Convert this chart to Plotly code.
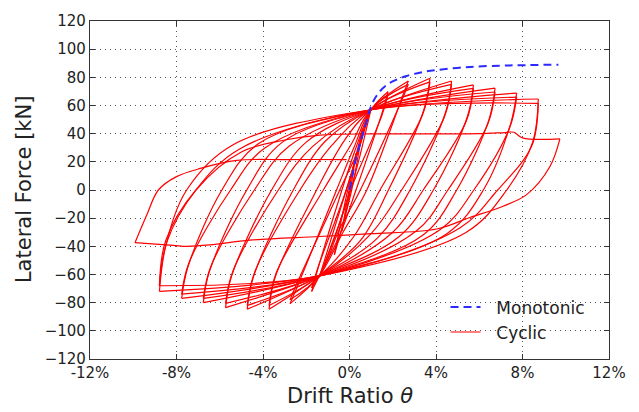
import plotly.graph_objects as go

# ---------------- data (drift in %, force in kN) ----------------
# Monotonic push-over curve
mono_drift = [0.0, 0.33, 0.70, 1.03, 1.35, 1.72, 2.20, 2.64, 3.30, 4.03, 5.57, 7.00, 7.88, 9.66]
mono_force = [0.0, 24.0, 44.0, 60.7, 69.0, 74.6, 78.5, 81.0, 83.5, 85.2, 87.4, 88.3, 88.6, 89.0]

# Small, nearly elastic cycles
small_pos_drift = [0.30, 0.60, 1.00]
small_pos_force = [26.0, 43.0, 58.0]
small_neg_drift = [-0.35, -0.70, -1.40]
small_neg_force = [-29.0, -46.0, -62.0]
small_up_zero = [-0.02, -0.08, -0.15]
small_dn_zero = [0.04, 0.10, 0.05]

# Large cycles: two cycles per drift level
pos_drift = [1.78, 2.72, 3.72, 4.72, 5.73, 6.73, 7.73, 8.73]
pos_force_c1 = [69.8, 77.4, 79.3, 77.4, 74.6, 72.3, 68.8, 64.6]
pos_force_c2 = [67.5, 75.0, 76.8, 75.0, 72.2, 69.6, 66.0, 61.5]
neg_drift = [-1.75, -2.75, -3.72, -4.73, -5.73, -6.76, -7.76, -8.79]
neg_force_c1 = [-72.0, -80.7, -84.6, -84.6, -83.5, -80.0, -77.0, -72.0]
neg_force_c2 = [-69.5, -78.0, -82.0, -82.0, -80.5, -77.0, -74.0, -68.0]

# points on the steep part of each branch, just after the load reversal
up_steep_x_c1 = [-1.50, -2.45, -3.44, -4.45, -5.45, -6.48, -7.48, -8.50]
up_steep_y_c1 = [-58.0, -70.0, -62.0, -62.0, -61.0, -58.0, -55.0, -40.0]
up_steep_x_c2 = [-1.48, -2.45, -3.39, -4.40, -5.40, -6.43, -7.43, -8.45]
up_steep_y_c2 = [-56.0, -67.0, -59.0, -59.0, -58.0, -55.0, -52.0, -37.0]
dn_steep_x_c1 = [1.53, 2.44, 3.44, 4.44, 5.45, 6.45, 7.45, 8.47]
dn_steep_y_c1 = [56.0, 66.0, 57.0, 55.0, 52.0, 50.0, 47.0, 34.0]
dn_steep_x_c2 = [1.50, 2.40, 3.39, 4.39, 5.40, 6.40, 7.40, 8.42]
dn_steep_y_c2 = [53.0, 63.0, 54.0, 52.0, 49.0, 47.0, 44.0, 31.0]

# zero-force crossings of the reloading (upward) and unloading (downward) branches
up_zero_c1 = [-0.35, -0.60, -1.52, -2.60, -3.60, -4.75, -5.90, -7.53]
up_zero_c2 = [-0.15, -0.45, -1.21, -2.29, -3.29, -4.40, -5.50, -7.10]
dn_zero_c1 = [0.30, 0.80, 1.80, 2.80, 3.88, 4.96, 6.19, 7.27]
dn_zero_c2 = [0.05, 0.50, 1.41, 2.41, 3.41, 4.55, 5.75, 6.85]

# knee points where the steep branches turn into the flat ones
up_knee_x_c1 = [0.30, 0.20, -0.20, -1.10, -2.00, -3.10, -4.20, -5.40]
up_knee_y_c1 = [30.0, 30.0, 36.0, 35.0, 34.0, 34.0, 33.0, 32.0]
up_knee_x_c2 = [0.40, 0.45, 0.10, -0.80, -1.70, -2.80, -3.90, -5.10]
up_knee_y_c2 = [28.0, 30.0, 33.0, 32.0, 31.0, 31.0, 30.0, 29.0]
dn_knee_x_c1 = [-0.45, -0.30, 0.50, 1.30, 2.30, 3.40, 4.50, 5.40]
dn_knee_y_c1 = [-32.0, -30.0, -36.0, -34.0, -33.0, -32.0, -31.0, -30.0]
dn_knee_x_c2 = [-0.60, -0.50, 0.20, 1.00, 2.00, 3.10, 4.20, 5.10]
dn_knee_y_c2 = [-30.0, -29.0, -33.0, -31.0, -30.0, -29.0, -28.0, -27.0]

# common points the flat branches pass through
upper_pivot = (1.0, 57.0)
lower_pivot = (-1.4, -61.0)

# final, strongly degraded cycle
final_push_x = [-8.79, -8.50, -7.10, -5.00, -3.00, -1.37, 1.00, 3.26, 6.00, 7.20, 7.60, 8.00, 9.73]
final_push_y = [-68.0, -36.0, 0.0, 27.0, 35.5, 39.0, 39.8, 39.8, 40.0, 40.8, 41.0, 37.0, 36.3]
final_pull_x = [9.73, 9.27, 8.19, 7.10, 5.57, 4.03, 1.00, -1.40, -4.60, -6.45, -7.50, -8.15, -9.92]
final_pull_y = [36.3, 16.7, -3.3, -11.5, -19.5, -27.7, -31.0, -33.0, -35.6, -39.0, -40.0, -39.3, -37.4]
final_return_x = [-9.92, -9.38, -8.84, -8.00, -6.90, -5.20, -3.00, -0.13]
final_return_y = [-37.4, -18.0, 0.0, 9.5, 15.3, 21.0, 21.6, 21.6]

# ---------------- assemble cyclic path ----------------
cx, cy = [], []


def add_branch(pts):
    for px, py in pts:
        cx.append(px)
        cy.append(py)
    cx.append(None)
    cy.append(None)


for i in range(len(small_pos_drift)):
    add_branch([(small_neg_drift[i], small_neg_force[i]), (small_up_zero[i], 0.0),
                (small_pos_drift[i], small_pos_force[i])])
    add_branch([(small_pos_drift[i], small_pos_force[i]), (small_dn_zero[i], 0.0),
                (small_neg_drift[i], small_neg_force[i])])

cycles = [
    dict(pf=pos_force_c1, nf=neg_force_c1, uz=up_zero_c1, dz=dn_zero_c1,
         usx=up_steep_x_c1, usy=up_steep_y_c1, dsx=dn_steep_x_c1, dsy=dn_steep_y_c1,
         ukx=up_knee_x_c1, uky=up_knee_y_c1, dkx=dn_knee_x_c1, dky=dn_knee_y_c1),
    dict(pf=pos_force_c2, nf=neg_force_c2, uz=up_zero_c2, dz=dn_zero_c2,
         usx=up_steep_x_c2, usy=up_steep_y_c2, dsx=dn_steep_x_c2, dsy=dn_steep_y_c2,
         ukx=up_knee_x_c2, uky=up_knee_y_c2, dkx=dn_knee_x_c2, dky=dn_knee_y_c2),
]

for i in range(len(pos_drift)):
    for c in cycles:
        up = [(neg_drift[i], c["nf"][i]), (c["usx"][i], c["usy"][i]),
              (c["uz"][i], 0.0), (c["ukx"][i], c["uky"][i])]
        if c["ukx"][i] < upper_pivot[0] - 0.2:
            up.append(upper_pivot)
        up.append((pos_drift[i], c["pf"][i]))
        add_branch(up)
        dn = [(pos_drift[i], c["pf"][i]), (c["dsx"][i], c["dsy"][i]),
              (c["dz"][i], 0.0), (c["dkx"][i], c["dky"][i])]
        if c["dkx"][i] > lower_pivot[0] + 0.2:
            dn.append(lower_pivot)
        dn.append((neg_drift[i], c["nf"][i]))
        add_branch(dn)

add_branch(list(zip(final_push_x, final_push_y)))
add_branch(list(zip(final_pull_x, final_pull_y)))
add_branch(list(zip(final_return_x, final_return_y)))

# ---------------- figure ----------------
fig = go.Figure()
fig.add_trace(go.Scatter(
    x=cx, y=cy, mode="lines", name="\u00a0\u00a0Cyclic",
    line=dict(color="#ff0000", width=1.2, shape="spline", smoothing=1.0),
    connectgaps=False, legendrank=2,
))
fig.add_trace(go.Scatter(
    x=mono_drift, y=mono_force, mode="lines", name="\u00a0\u00a0Monotonic",
    line=dict(color="#2b2bff", width=2, dash="8px,5px", shape="spline"),
    legendrank=1,
))

x_ticks = [-12, -8, -4, 0, 4, 8, 12]
x_labels = ["-12%", "-8%", "-4%", "0%", "4%", "8%", "12%"]
y_ticks = list(range(-120, 121, 20))
y_labels = [("\u2212" + str(-v)) if v < 0 else str(v) for v in y_ticks]

axis_style = dict(
    showgrid=True, gridcolor="#555555", griddash="1px,4px", gridwidth=1.2,
    zeroline=False, showline=True, linecolor="#333333", linewidth=1.3,
    mirror="ticks", ticks="inside", ticklen=5, tickcolor="#333333",
    tickfont=dict(family="DejaVu Sans", size=15, color="#222222"),
)

fig.update_xaxes(range=[-12, 12], tickmode="array", tickvals=x_ticks, ticktext=x_labels, **axis_style)
fig.update_yaxes(range=[-120, 120], tickmode="array", tickvals=y_ticks, ticktext=y_labels, **axis_style)

fig.update_layout(
    width=639, height=412,
    margin=dict(l=90, r=30, t=15, b=53),
    plot_bgcolor="white", paper_bgcolor="white",
    font=dict(family="DejaVu Sans", color="#222222"),
    showlegend=True,
    legend=dict(
        x=0.685, y=0.206, xanchor="left", yanchor="top",
        bgcolor="rgba(0,0,0,0)", borderwidth=0,
        font=dict(family="DejaVu Sans", size=17, color="#222222"),
    ),
    annotations=[
        dict(text="Lateral Force [kN]", xref="paper", yref="paper", x=-0.127, y=0.5,
             xanchor="center", yanchor="middle", textangle=-90, showarrow=False,
             font=dict(family="DejaVu Sans", size=21, color="#222222")),
        dict(text="Drift Ratio <i>θ</i>", xref="paper", yref="paper", x=0.5, y=-0.110,
             xanchor="center", yanchor="middle", showarrow=False,
             font=dict(family="DejaVu Sans", size=21, color="#222222")),
    ],
)

fig.write_html("out.html")
